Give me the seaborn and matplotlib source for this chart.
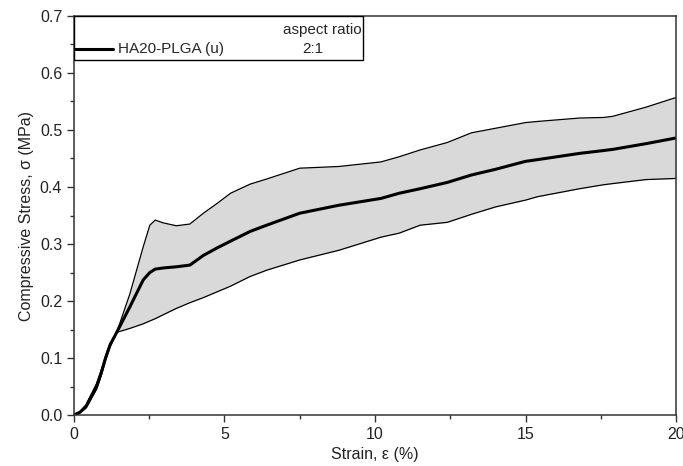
import numpy as np
import pandas as pd
import matplotlib
matplotlib.use("Agg")
import matplotlib.pyplot as plt
import seaborn as sns
from matplotlib.patches import Rectangle
from matplotlib.lines import Line2D
from matplotlib.ticker import MultipleLocator, FormatStrFormatter

# values
strain = [0, 0.2, 0.4, 0.55, 0.75, 0.9, 1.05, 1.2, 1.42,
          1.86, 2.3, 2.52, 2.7, 2.97, 3.4, 3.85, 4.3, 4.75, 5.2, 5.85, 6.4,
          7.5, 8.8, 10.2, 10.8, 11.5, 12.4, 13.2, 14.0, 15.0, 15.4, 16.8,
          17.6, 17.9, 19.0, 20.0]
stress_mean = [0, 0.005, 0.015, 0.03, 0.05, 0.073, 0.1, 0.123, 0.145,
               0.19, 0.237, 0.250, 0.256, 0.258, 0.260, 0.263, 0.280, 0.293,
               0.305, 0.322, 0.333, 0.354, 0.368, 0.380, 0.389, 0.397, 0.408,
               0.421, 0.431, 0.445, 0.448, 0.459, 0.464, 0.466, 0.476, 0.486]
stress_upper = [0, 0.006, 0.018, 0.034, 0.055, 0.078, 0.104, 0.126, 0.145,
                0.213, 0.295, 0.333, 0.342, 0.337, 0.332, 0.335, 0.354, 0.371,
                0.389, 0.405, 0.414, 0.433, 0.436, 0.444, 0.453, 0.465, 0.478,
                0.495, 0.503, 0.513, 0.515, 0.521, 0.522, 0.524, 0.540, 0.557]
stress_lower = [0, 0.004, 0.012, 0.026, 0.045, 0.068, 0.096, 0.12, 0.145,
                0.152, 0.160, 0.165, 0.169, 0.176, 0.187, 0.197, 0.206, 0.216,
                0.226, 0.243, 0.254, 0.272, 0.289, 0.312, 0.319, 0.333, 0.338,
                0.352, 0.365, 0.377, 0.383, 0.397, 0.404, 0.406, 0.413, 0.415]
sample = "HA20-PLGA (u)"
ratio = "2:1"

df = pd.DataFrame({"strain": strain, "mean": stress_mean,
                   "upper": stress_upper, "lower": stress_lower})

sns.set_style("ticks")
plt.rcParams["font.family"] = ["Liberation Sans", "DejaVu Sans"]
plt.rcParams["font.size"] = 11.5

fig = plt.figure(figsize=(6.83, 4.66), dpi=100)
ax = fig.add_axes([0.1083, 0.1094, 0.8815, 0.8563])

ax.fill_between(df["strain"], df["lower"], df["upper"], color="#d9d9d9", lw=0)
for col, w in [("upper", 0.9), ("lower", 0.9), ("mean", 2.2)]:
    sns.lineplot(data=df, x="strain", y=col, ax=ax, color="black", lw=w,
                 estimator=None, sort=False, solid_joinstyle="round",
                 solid_capstyle="round")

ax.set_xlim(0, 20)
ax.set_ylim(0, 0.7)
ax.xaxis.set_major_locator(MultipleLocator(5))
ax.xaxis.set_minor_locator(MultipleLocator(2.5))
ax.yaxis.set_major_locator(MultipleLocator(0.1))
ax.yaxis.set_minor_locator(MultipleLocator(0.05))
ax.yaxis.set_major_formatter(FormatStrFormatter("%.1f"))
ax.tick_params(which="major", direction="out", length=5, width=1,
               colors="#333333", labelcolor="#222222")
ax.tick_params(which="minor", direction="out", length=3, width=1,
               colors="#333333")
for s in ax.spines.values():
    s.set_visible(True)
    s.set_linewidth(1.1)
    s.set_color("#333333")

ax.set_xlabel("Strain, ε (%)", color="#222222")
ax.set_ylabel("Compressive Stress, σ (MPa)", color="#222222")

# legend box drawn like the original
ax.add_patch(Rectangle((0, 0.890), 0.480, 0.110, transform=ax.transAxes,
                       facecolor="white", edgecolor="black", lw=1, zorder=5))
ax.add_line(Line2D([0.002, 0.065], [0.918, 0.918], transform=ax.transAxes,
                   color="black", lw=2.2, zorder=6))
ax.text(0.073, 0.918, sample, transform=ax.transAxes, va="center", ha="left",
        fontsize=11, zorder=6)
ax.text(0.477, 0.966, "aspect ratio", transform=ax.transAxes, va="center",
        ha="right", fontsize=11, zorder=6)
ax.text(0.397, 0.918, ratio, transform=ax.transAxes, va="center",
        ha="center", fontsize=11, zorder=6)

fig.savefig("out.png", dpi=100)
